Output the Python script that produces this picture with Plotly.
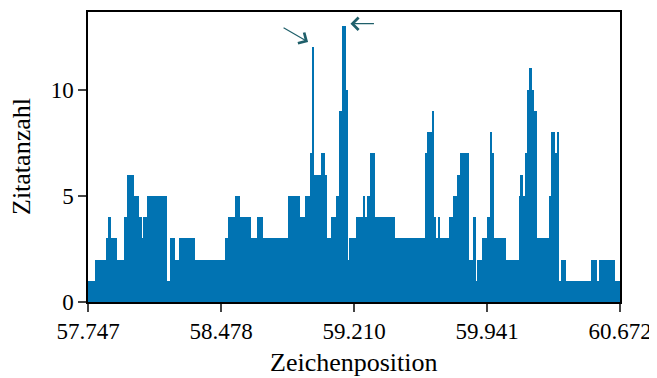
import numpy as np
import plotly.graph_objects as go

# Step-wise citation counts along the character position axis
seg_start = [57.747, 57.785, 57.851, 57.859, 57.872, 57.906, 57.946, 57.961, 58.000, 58.027,
             58.045, 58.049, 58.073, 58.181, 58.199, 58.225, 58.247, 58.335, 58.500, 58.518,
             58.554, 58.582, 58.642, 58.675, 58.708, 58.844, 58.910, 58.939, 58.972, 58.979,
             58.992, 59.027, 59.049, 59.060, 59.082, 59.108, 59.126, 59.142, 59.163, 59.174,
             59.181, 59.221, 59.263, 59.272, 59.283, 59.296, 59.324, 59.433, 59.598, 59.609,
             59.637, 59.648, 59.659, 59.670, 59.681, 59.730, 59.752, 59.774, 59.790, 59.840,
             59.862, 59.878, 59.884, 59.911, 59.939, 59.955, 59.966, 59.977, 60.043, 60.115,
             60.126, 60.136, 60.147, 60.164, 60.169, 60.188, 60.197, 60.213, 60.285, 60.290,
             60.316, 60.323, 60.334, 60.345, 60.373, 60.510, 60.548, 60.554, 60.647]
seg_end_last = 60.672
counts = [1, 2, 3, 4, 3, 2, 4, 6, 5, 4,
          3, 4, 5, 1, 3, 2, 3, 2, 3, 4,
          5, 4, 3, 4, 3, 5, 4, 5, 7, 12,
          6, 7, 6, 3, 4, 5, 9, 13, 10, 2,
          3, 4, 5, 4, 5, 7, 4, 3, 7, 8,
          9, 4, 3, 4, 3, 4, 5, 6, 7, 2,
          4, 1, 2, 3, 4, 8, 7, 3, 2, 5,
          6, 5, 7, 10, 11, 10, 9, 3, 5, 8,
          7, 8, 1, 2, 1, 2, 1, 2, 1]

x_min, x_max = 57.747, 60.672
x_tick_labels = ["57.747", "58.478", "59.210", "59.941", "60.672"]
y_ticks = [0, 5, 10]
x_title = "Zeichenposition"
y_title = "Zitatanzahl"

# arrows pointing at the two highest peaks (data coords of the arrow heads)
arrow_heads = [(58.957, 12.24), (59.190, 13.1)]
arrow_offsets = [(-26, -15), (25, 0)]

edges = np.array(seg_start + [seg_end_last])
widths = np.diff(edges)
centers = edges[:-1] + widths / 2

BAR = "#0173b2"
FONT = "Liberation Serif"

fig = go.Figure()
fig.add_trace(go.Bar(x=centers, y=counts, width=widths, marker_color=BAR,
                     marker_line_width=0, showlegend=False))

for (hx, hy), (ax, ay) in zip(arrow_heads, arrow_offsets):
    fig.add_annotation(x=hx, y=hy, ax=ax, ay=ay, text="", showarrow=True,
                       arrowhead=4, arrowsize=2.0, arrowwidth=1.2,
                       arrowcolor="#1f5f6a", xref="x", yref="y")

# axis titles placed relative to the plot area
fig.add_annotation(text=x_title, xref="paper", yref="paper", x=0.5, y=0,
                   xanchor="center", yanchor="middle", yshift=-60, showarrow=False,
                   font=dict(size=26))
fig.add_annotation(text=y_title, xref="paper", yref="paper", x=0, y=0.5,
                   xanchor="center", yanchor="middle", xshift=-67, textangle=-90,
                   showarrow=False, font=dict(size=26))

# the page body adds an 8px offset, so the figure is sized to fit the window
fig.update_layout(
    width=649, height=370,
    margin=dict(l=80, r=36.5, t=3.5, b=75.7, autoexpand=False),
    plot_bgcolor="white", paper_bgcolor="white",
    font=dict(family=FONT, size=23, color="black"),
    bargap=0,
)
fig.update_xaxes(range=[x_min, x_max], tickvals=list(np.linspace(x_min, x_max, 5)),
                 ticktext=x_tick_labels, ticks="outside", ticklen=8, tickwidth=1.5,
                 showline=True, linecolor="black", linewidth=1.5, mirror=True,
                 showgrid=False, zeroline=False, automargin=False)
fig.update_yaxes(range=[0, 13.65], tickvals=y_ticks, ticks="outside", ticklen=8, tickwidth=1.5,
                 showline=True, linecolor="black", linewidth=1.5, mirror=True,
                 showgrid=False, zeroline=False, automargin=False)

fig.write_html("out.html")
